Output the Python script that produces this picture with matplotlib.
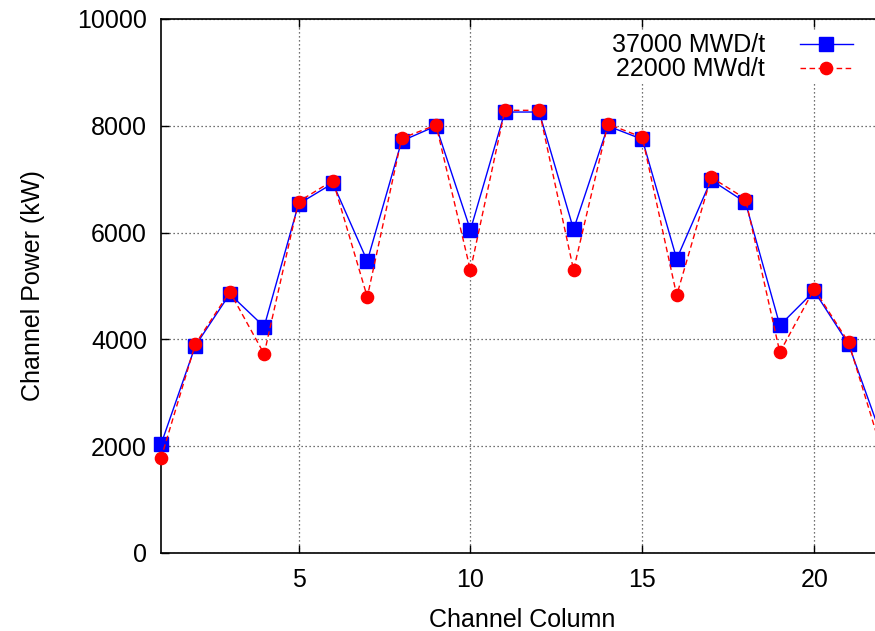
import matplotlib
matplotlib.use("Agg")
import matplotlib.pyplot as plt

plt.rcParams["font.family"] = ["Liberation Sans", "DejaVu Sans"]

# Channel power per column at two burnup states
columns = list(range(1, 23))
power_37000 = [2035, 3882, 4850, 4238, 6536, 6923, 5468, 7715, 7996, 6049, 8258,
               8258, 6061, 7996, 7747, 5506, 6985, 6567, 4263, 4906, 3907, 2110]
power_22000 = [1773, 3914, 4894, 3727, 6579, 6975, 4794, 7766, 8015, 5294, 8290,
               8290, 5300, 8034, 7784, 4826, 7035, 6635, 3758, 4944, 3945, 1840]
series_labels = ["37000 MWD/t", "22000 MWd/t"]
x_ticks = [5, 10, 15, 20]
y_ticks = [0, 2000, 4000, 6000, 8000, 10000]

W, H = 875, 631
fig = plt.figure(figsize=(W / 100, H / 100), dpi=100)
px_per_col = 34.38
ax = fig.add_axes([161 / W, 1 - 553 / H, 21 * px_per_col / W, (553 - 19) / H])

fs = 18
ax.plot(columns, power_37000, color="#0000ff", lw=1.0, marker="s", ms=9.5,
        mec="#0000ff", mfc="#0000ff", clip_on=False, zorder=3, label=series_labels[0])
ax.plot(columns, power_22000, color="#ff0000", lw=1.0, marker="o", ms=8.8,
        mec="#ff0000", mfc="#ff0000", dashes=(4, 2.5), clip_on=False, zorder=4,
        label=series_labels[1])

ax.set_xlim(1, 22)
ax.set_ylim(0, 10000)
ax.set_xticks(x_ticks)
ax.set_yticks(y_ticks)
ax.tick_params(direction="in", length=5.8, width=1.0, top=True, right=True,
               labelsize=fs, pad=11)
ax.tick_params(axis="y", pad=10)
for s in ax.spines.values():
    s.set_linewidth(1.2)

ax.grid(True, linestyle=(0, (1, 2.2)), color="#444444", lw=0.9)
ax.set_axisbelow(True)

ax.set_xlabel("Channel Column", fontsize=fs, labelpad=11)
ax.set_ylabel("Channel Power (kW)", fontsize=fs, labelpad=23)

leg = ax.legend(loc="upper right", bbox_to_anchor=(855 / W, 1 - 31 / H),
                bbox_transform=fig.transFigure, markerfirst=False, frameon=True,
                fontsize=fs, handlelength=2.1, handletextpad=1.4, labelspacing=0.0,
                borderpad=0.1, borderaxespad=0, fancybox=False)
leg.get_frame().set_edgecolor("none")
leg.get_frame().set_facecolor("white")
leg.get_frame().set_alpha(1.0)
for t in leg.get_texts():
    t.set_ha("right")
leg._legend_box.align = "right"

fig.savefig("out.png", dpi=100)
